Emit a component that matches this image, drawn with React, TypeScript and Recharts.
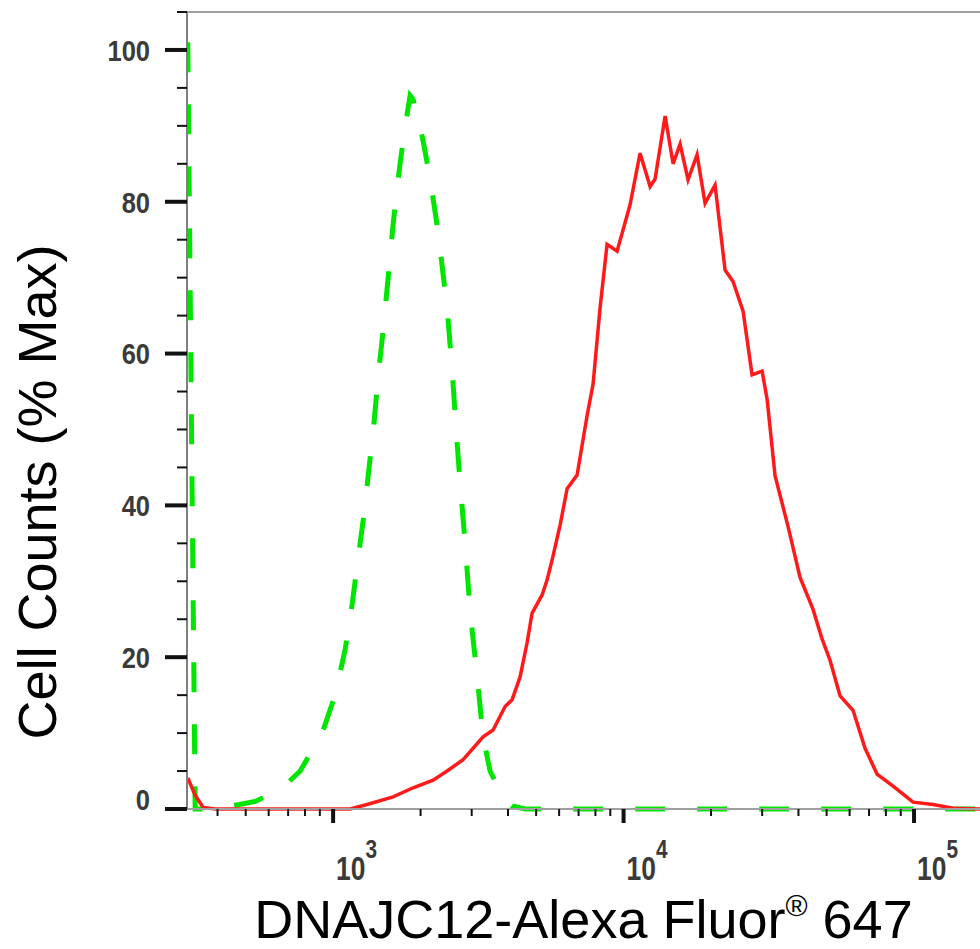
import React from "react";
import { LineChart, Line, XAxis, YAxis, ReferenceLine } from "recharts";

// isotype control (green dashed) - fluorescence vs % max
const isoX = [316, 335, 393, 435, 539, 657, 770, 917, 1016, 1100, 1163, 1219, 1279, 1330, 1384, 1429, 1486, 1547, 1609, 1674, 1755, 1841, 1885, 1962, 2041, 2158, 2299, 2468, 2568, 2651, 2736, 2848, 2963, 3131, 3284, 3470, 3818, 4133, 4581, 168700];
const isoY = [101, 0, 0, 0.3, 1, 2.5, 5, 10, 15, 21, 27, 33, 39, 45, 51, 57, 63, 70, 77, 83, 89, 94, 93.5, 91, 88, 83, 76, 66, 58, 50, 43, 35, 26, 17.5, 9.5, 5, 1.8, 0.4, 0, 0];

// DNAJC12 stained (red)
const dnajX = [316, 335, 357, 393, 1144, 1309, 1609, 1885, 2209, 2468, 2802, 3284, 3554, 3909, 4133, 4403, 4654, 4842, 5242, 5455, 5675, 6045, 6392, 6918, 7488, 7853, 8299, 8774, 9497, 10529, 11398, 12339, 12837, 13900, 14809, 15649, 16673, 17906, 19078, 20654, 22359, 23820, 25786, 27693, 29986, 31195, 33228, 36842, 40516, 44907, 48224, 51374, 55644, 61660, 67830, 74580, 84680, 99220, 116300, 136200, 168700];
const dnajY = [4.1, 1.8, 0.2, 0, 0, 0.6, 1.6, 2.8, 3.8, 5, 6.5, 9.5, 10.4, 13.5, 14.4, 17.4, 21.9, 25.8, 28.2, 30.2, 32.8, 37.4, 42.2, 44, 51.8, 56, 66, 74.4, 73.5, 79.6, 86.4, 82, 83, 91.3, 85, 87.6, 82.9, 86.2, 79.8, 82.2, 71, 69.5, 65.6, 57.2, 57.7, 54, 43.9, 37.2, 30.5, 26.3, 22.4, 19.6, 14.9, 13, 8, 4.6, 3, 0.9, 0.6, 0.1, 0];

const yTicks = [0, 5, 10, 15, 20, 25, 30, 35, 40, 45, 50, 55, 60, 65, 70, 75, 80, 85, 90, 95, 100, 105];
const yLabels = [0, 20, 40, 60, 80, 100];
const xTicks = [400, 500, 600, 700, 800, 900, 1000, 2000, 3000, 4000, 5000, 6000, 7000, 8000, 9000, 10000, 20000, 30000, 40000, 50000, 60000, 70000, 80000, 90000, 100000];
const xDecades = [1000, 10000, 100000];
const xExponents = ["3", "4", "5"];

const isotype = isoX.map((x, i) => ({ x, y: isoY[i] }));
const dnaj = dnajX.map((x, i) => ({ x, y: dnajY[i] }));

const FONT = "'Liberation Sans', Arial, sans-serif";

const YTick = (props: any) => {
  const { x, y, payload } = props;
  const v = payload.value;
  const major = yLabels.includes(v);
  return (
    <g>
      <line x1={x - (major ? 22 : 10)} x2={x} y1={y} y2={y} stroke="#111" strokeWidth={major ? 4 : 2} />
      {major && (
        <g transform={`translate(${x - 37},${y + (v === 0 ? -10 : 0)}) scale(0.85,1)`}>
          <text x={0} y={0} dy="0.36em" textAnchor="end" fontFamily={FONT} fontSize={30} fontWeight="bold" fill="#3a3a3a">
            {v}
          </text>
        </g>
      )}
    </g>
  );
};

const XTick = (props: any) => {
  const { x, y, payload } = props;
  const i = xDecades.indexOf(payload.value);
  const major = i >= 0;
  return (
    <g>
      <line x1={x} x2={x} y1={y} y2={y + (major ? 14 : 7)} stroke="#111" strokeWidth={major ? 4 : 2} />
      {major && (
        <g transform={`translate(${x + 3},${y + 71}) scale(0.8,1)`}>
          <text x={0} y={0} fontFamily={FONT} fontSize={33} fontWeight="bold" fill="#3a3a3a">
            10
            <tspan dy={-22} fontSize={26}>{xExponents[i]}</tspan>
          </text>
        </g>
      )}
    </g>
  );
};

const XTitle = (props: any) => {
  const vb = props.viewBox || { x: 187, width: 793 };
  return (
    <text x={vb.x + vb.width / 2} y={938} textAnchor="middle" fontFamily={FONT} fontSize={54} fill="#000">
      DNAJC12-Alexa Fluor
      <tspan dy={-22} fontSize={30}>®</tspan>
      <tspan dy={22}> 647</tspan>
    </text>
  );
};

const YTitle = () => (
  <text transform="translate(56,492) rotate(-90)" textAnchor="middle" fontFamily={FONT} fontSize={54} fill="#000">
    Cell Counts (% Max)
  </text>
);

export default function App() {
  return (
    <div style={{ position: "absolute", left: 0, top: 0, width: 980, height: 949, overflow: "hidden", background: "#fff" }}>
      <LineChart width={980} height={949} margin={{ top: 12, right: 0, left: 0, bottom: 0 }}>
        <XAxis
          dataKey="x"
          type="number"
          scale="log"
          domain={[314, 168700]}
          allowDataOverflow
          ticks={xTicks}
          interval={0}
          tick={<XTick />}
          tickLine={false}
          tickSize={0}
          tickMargin={0}
          height={140}
          axisLine={{ stroke: "#a0a0a0", strokeWidth: 2 }}
          label={<XTitle />}
        />
        <YAxis
          type="number"
          domain={[0, 105]}
          ticks={yTicks}
          interval={0}
          tick={<YTick />}
          tickLine={false}
          tickSize={0}
          tickMargin={0}
          width={187}
          axisLine={{ stroke: "#808080", strokeWidth: 2 }}
          label={<YTitle />}
        />
        <ReferenceLine y={105} stroke="#a0a0a0" strokeWidth={2} />
        <Line
          data={isotype}
          dataKey="y"
          type="linear"
          stroke="#00e600"
          strokeWidth={5}
          strokeDasharray="30 32"
          dot={false}
          isAnimationActive={false}
        />
        <Line
          data={dnaj}
          dataKey="y"
          type="linear"
          stroke="#ff1a1a"
          strokeWidth={3.5}
          dot={false}
          isAnimationActive={false}
        />
      </LineChart>
    </div>
  );
}
